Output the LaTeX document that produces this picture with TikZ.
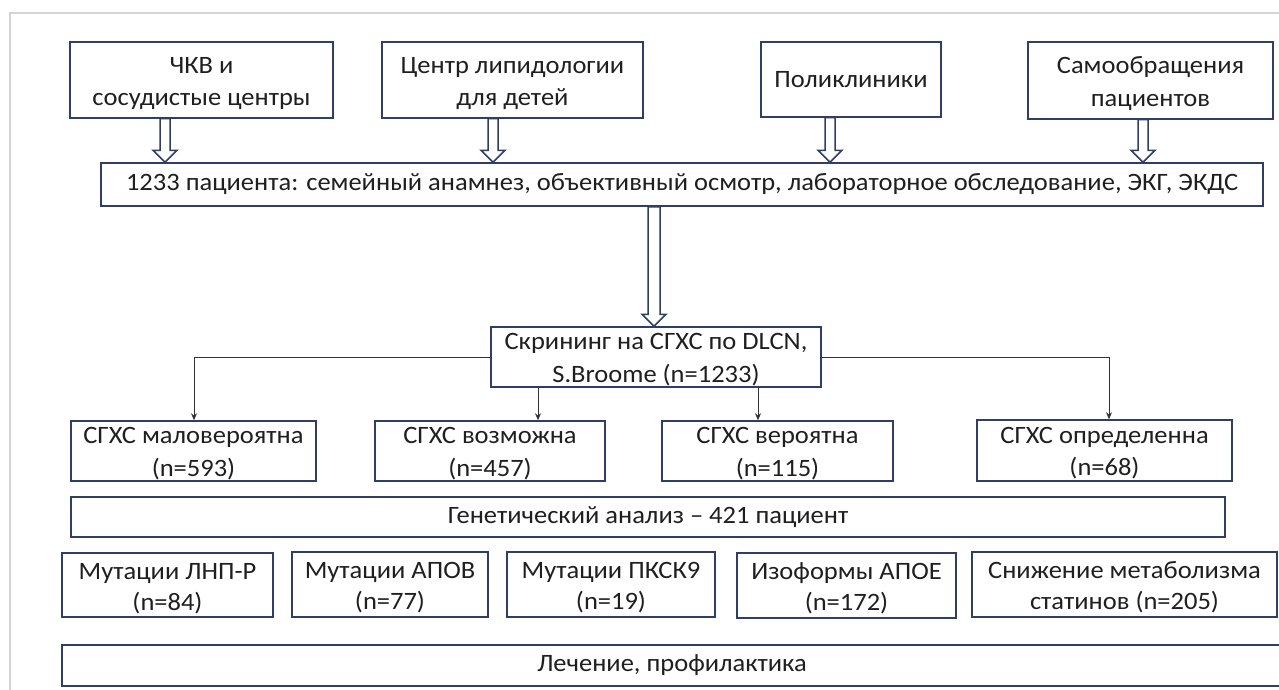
\documentclass[tikz,border=0pt]{standalone}
\usepackage{fontspec}
\setmainfont{Carlito}[FakeStretch=1.06]
\usetikzlibrary{calc,arrows.meta}
\definecolor{navy}{RGB}{47,62,105}
\definecolor{framegray}{RGB}{212,212,212}
\newcommand{\hollowarrow}[5]{%
  \draw[harrow] let \p0=(#1), \p1=(#2), \p2=(#3) in
    (\x0-#4,\y1) -- (\x0+#4,\y1) -- (\x0+#4,\y2+12pt) -- (\x0+#5,\y2+12pt)
    -- (\x0,\y2) -- (\x0-#5,\y2+12pt) -- (\x0-#4,\y2+12pt) -- cycle;}
\begin{document}
\begin{tikzpicture}[x=1pt,y=-1pt,
  box/.style={draw=navy, line width=1.5pt, fill=white, align=center, inner sep=0pt,
    font=\fontsize{25}{32.5}\selectfont, text=black!88},
  two/.style={text height=#1, text depth=0pt},
  tight/.style={font=\fontsize{25}{31}\selectfont},
  conn/.style={draw=black!80, line width=0.9pt, -{Stealth[length=7pt,width=6pt]}},
  harrow/.style={draw=navy, line width=1.5pt, fill=white, line join=miter}]
\useasboundingbox (0,0) rectangle (1279,690);
\clip (0,0) rectangle (1279,690);
\draw[framegray, line width=1.5pt] (1290,13) -- (10,13) -- (10,700);

% top sources
\node[box, two=52pt, minimum width=263, minimum height=76] (b1) at (201.5,80) {ЧКВ и\\сосудистые центры};
\node[box, two=52pt, minimum width=261, minimum height=76] (b2) at (512.5,80) {Центр липидологии\\для детей};
\node[box, minimum width=180, minimum height=75] (b3) at (851,79.5) {Поликлиники};
\node[box, two=52pt, minimum width=245, minimum height=77] (b4) at (1150.5,80.5) {Самообращения\\пациентов};

\node[box, minimum width=1162, minimum height=43] (main) at (682,184.5)
  {1233 пациента: семейный анамнез, объективный осмотр, лабораторное обследование, ЭКГ, ЭКДС};

\node[box, two=50pt, minimum width=330, minimum height=60] (scr) at (656,357)
  {Скрининг на СГХС по DLCN,\\S.Broome (n=1233)};

% probability groups
\node[box, two=50pt, minimum width=245, minimum height=60] (r1) at (193.5,451) {СГХС маловероятна\\(n=593)};
\node[box, two=50pt, minimum width=230, minimum height=60] (r2) at (490,451) {СГХС возможна\\(n=457)};
\node[box, two=50pt, minimum width=231, minimum height=60] (r3) at (777.5,451) {СГХС вероятна\\(n=115)};
\node[box, two=50pt, minimum width=255, minimum height=61] (r4) at (1104.5,450.5) {СГХС определенна\\(n=68)};

\node[box, minimum width=1154, minimum height=40] (gen) at (648,517) {Генетический анализ – 421 пациент};

% genetic results
\node[box, tight, two=50pt, minimum width=211, minimum height=64] (m1) at (167.5,585) {Мутации ЛНП-Р\\(n=84)};
\node[box, tight, two=50pt, minimum width=196, minimum height=65] (m2) at (390,584.5) {Мутации АПОВ\\(n=77)};
\node[box, tight, two=50pt, minimum width=208, minimum height=65] (m3) at (611,584.5) {Мутации ПКСК9\\(n=19)};
\node[box, tight, two=50pt, minimum width=219, minimum height=65] (m4) at (846.5,585.5) {Изоформы АПОЕ\\(n=172)};
\node[box, tight, two=50pt, minimum width=305, minimum height=65] (m5) at (1124.5,584.5) {Снижение метаболизма\\статинов (n=205)};

\node[box, minimum width=1220, minimum height=41] (tr) at (672,665.5) {Лечение, профилактика};

% hollow arrows
\coordinate (a1) at (165,0);
\coordinate (a2) at (493,0);
\coordinate (a3) at (830,0);
\coordinate (a4) at (1143,0);
\coordinate (a5) at (654,0);
\hollowarrow{a1}{b1.south}{main.north}{5pt}{12pt}
\hollowarrow{a2}{b2.south}{main.north}{5pt}{12pt}
\hollowarrow{a3}{b3.south}{main.north}{5pt}{12pt}
\hollowarrow{a4}{b4.south}{main.north}{5pt}{12pt}
\hollowarrow{a5}{main.south}{scr.north}{6pt}{12pt}

% thin connectors
\coordinate (c1) at (194,0);
\coordinate (c2) at (538,0);
\coordinate (c3) at (758,0);
\coordinate (c4) at (1109,0);
\draw[conn] (scr.west) -| (r1.north -| c1);
\draw[conn] (scr.south -| c2) -- (r2.north -| c2);
\draw[conn] (scr.south -| c3) -- (r3.north -| c3);
\draw[conn] (scr.east) -| (r4.north -| c4);
\end{tikzpicture}
\end{document}
